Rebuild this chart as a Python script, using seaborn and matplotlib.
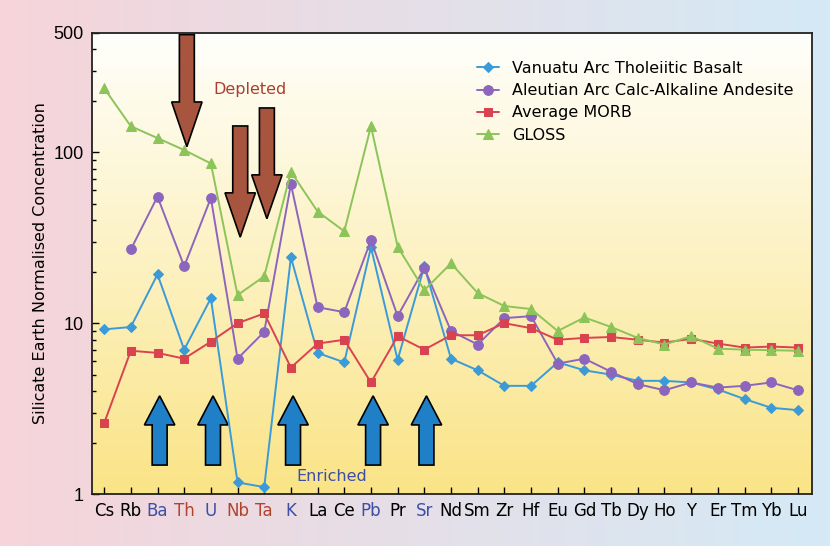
import numpy as np
import pandas as pd
import matplotlib
matplotlib.use("Agg")
import matplotlib.pyplot as plt
import matplotlib.transforms as mtransforms
from matplotlib.patches import Polygon
import seaborn as sns

# Element order on the x axis
elements = ["Cs", "Rb", "Ba", "Th", "U", "Nb", "Ta", "K", "La", "Ce", "Pb", "Pr", "Sr",
            "Nd", "Sm", "Zr", "Hf", "Eu", "Gd", "Tb", "Dy", "Ho", "Y", "Er", "Tm", "Yb", "Lu"]

# Silicate-earth normalised concentrations
vanuatu = [9.2, 9.5, 19.3, 7.0, 14.0, 1.17, 1.1, 24.3, 6.7, 5.9, 27.8, 6.1, 21.5,
           6.2, 5.3, 4.3, 4.3, 5.9, 5.3, 5.0, 4.6, 4.6, 4.5, 4.1, 3.6, 3.2, 3.1]
aleutian = [np.nan, 27.0, 55.0, 21.5, 54.0, 6.2, 8.9, 65.0, 12.4, 11.6, 30.6, 11.0, 21.0,
            9.0, 7.5, 10.7, 11.0, 5.8, 6.2, 5.2, 4.4, 4.05, 4.5, 4.2, 4.3, 4.5, 4.05]
morb = [2.6, 6.9, 6.7, 6.2, 7.8, 10.0, 11.4, 5.5, 7.6, 8.0, 4.5, 8.4, 7.0,
        8.5, 8.5, 10.0, 9.35, 8.0, 8.2, 8.3, 8.0, 7.7, 8.1, 7.6, 7.2, 7.3, 7.2]
gloss = [237, 142, 121, 103, 86, 14.6, 18.8, 77, 45, 34.5, 142, 28, 15.6,
         22.4, 15.0, 12.6, 12.1, 9.0, 10.8, 9.5, 8.2, 7.5, 8.4, 7.1, 7.0, 6.95, 6.9]

series_names = ["Vanuatu Arc Tholeiitic Basalt", "Aleutian Arc Calc-Alkaline Andesite",
                "Average MORB", "GLOSS"]
series_values = [vanuatu, aleutian, morb, gloss]
series_colors = ["#3a9bd8", "#8c66bd", "#d9434f", "#8cc45a"]
series_markers = ["D", "o", "s", "^"]
series_msize = [5, 7, 6, 7]

# Coloured tick labels / arrows
enriched = ["Ba", "U", "K", "Pb", "Sr"]
depleted = ["Th", "Nb", "Ta"]
blue_label = "#3b4fa6"
brown_label = "#b0452e"

sns.set_theme(style="ticks")
plt.rcParams["font.family"] = ["DejaVu Sans"]
plt.rcParams["text.color"] = "black"
plt.rcParams["axes.labelcolor"] = "black"
plt.rcParams["xtick.color"] = "black"
plt.rcParams["ytick.color"] = "black"

fig = plt.figure(figsize=(8.3, 5.46), dpi=100)

# figure background gradient: pink -> light blue
bg = fig.add_axes([0, 0, 1, 1], zorder=-10)
left_c = np.array([246, 212, 218]) / 255
right_c = np.array([212, 234, 246]) / 255
t = np.linspace(0, 1, 256)
grad = left_c[None, :] * (1 - t[:, None]) + right_c[None, :] * t[:, None]
bg.imshow(grad[None, :, :], aspect="auto", extent=[0, 1, 0, 1])
bg.set_axis_off()

ax = fig.add_axes([0.111, 0.095, 0.867, 0.845])
ax.set_facecolor("none")

# axes background gradient: white top -> yellow bottom
top_c = np.array([255, 255, 252]) / 255
bot_c = np.array([250, 228, 135]) / 255
vg = top_c[None, :] * (1 - t[:, None]) + bot_c[None, :] * t[:, None]
ax.imshow(vg[:, None, :], aspect="auto", extent=[0, 1, 0, 1],
          transform=ax.transAxes, zorder=-5)

x_pos = np.arange(len(elements))
for name, vals, col, mk, ms in zip(series_names, series_values, series_colors,
                                    series_markers, series_msize):
    df = pd.DataFrame({"x": x_pos, "y": vals}).dropna()
    sns.lineplot(data=df, x="x", y="y", ax=ax, color=col, marker=mk, markersize=ms,
                 markeredgecolor=col, linewidth=1.4, label=name, sort=False)

ax.set_yscale("log")
ax.set_ylim(1, 500)
ax.set_xlim(-0.45, len(elements) - 1 + 0.52)
ax.set_yticks([1, 10, 100, 500])
ax.set_yticklabels(["1", "10", "100", "500"], fontsize=13, family="Liberation Sans")
ax.set_xticks(x_pos)
ax.set_xticklabels(elements, fontsize=12)
for lab in ax.get_xticklabels():
    if lab.get_text() in enriched:
        lab.set_color(blue_label)
    elif lab.get_text() in depleted:
        lab.set_color(brown_label)
ax.tick_params(axis="both", direction="in", length=5, width=1, pad=6)
ax.tick_params(axis="y", which="minor", direction="in", length=3)
ax.set_xlabel("")
ax.set_ylabel("Silicate Earth Normalised Concentration", fontsize=11.5)
for sp in ax.spines.values():
    sp.set_linewidth(1.3)
    sp.set_color("#222222")

leg = ax.legend(loc="upper right", bbox_to_anchor=(0.995, 0.97), frameon=False,
                fontsize=11.5, handlelength=1.4, labelspacing=0.45)

# arrows in blended coords: x = category, y = axes fraction
trans = mtransforms.blended_transform_factory(ax.transData, ax.transAxes)


def arrow(xc, y_tail, y_head_base, y_tip, color):
    sw, hw = 0.28, 0.57
    pts = [(xc - sw, y_tail), (xc + sw, y_tail), (xc + sw, y_head_base),
           (xc + hw, y_head_base), (xc, y_tip), (xc - hw, y_head_base),
           (xc - sw, y_head_base)]
    ax.add_patch(Polygon(pts, closed=True, facecolor=color, edgecolor="black",
                         linewidth=1.2, transform=trans, zorder=1))


for el in enriched:
    arrow(elements.index(el) + 0.08, 0.063, 0.150, 0.213, "#1f80c8")

down_arrows = {"Th": (0.996, 0.850, 0.753), "Nb": (0.798, 0.653, 0.557),
               "Ta": (0.837, 0.692, 0.597)}
for el, (a, b, c) in down_arrows.items():
    arrow(elements.index(el) + 0.1, a, b, c, "#a8553f")

ax.text(5.47, 0.876, "Depleted", transform=trans, color="#a8402e", fontsize=11.5,
        ha="center", va="center")
ax.text(8.54, 0.039, "Enriched", transform=trans, color=blue_label, fontsize=11.5,
        ha="center", va="center")

fig.savefig("out.png", dpi=100)
